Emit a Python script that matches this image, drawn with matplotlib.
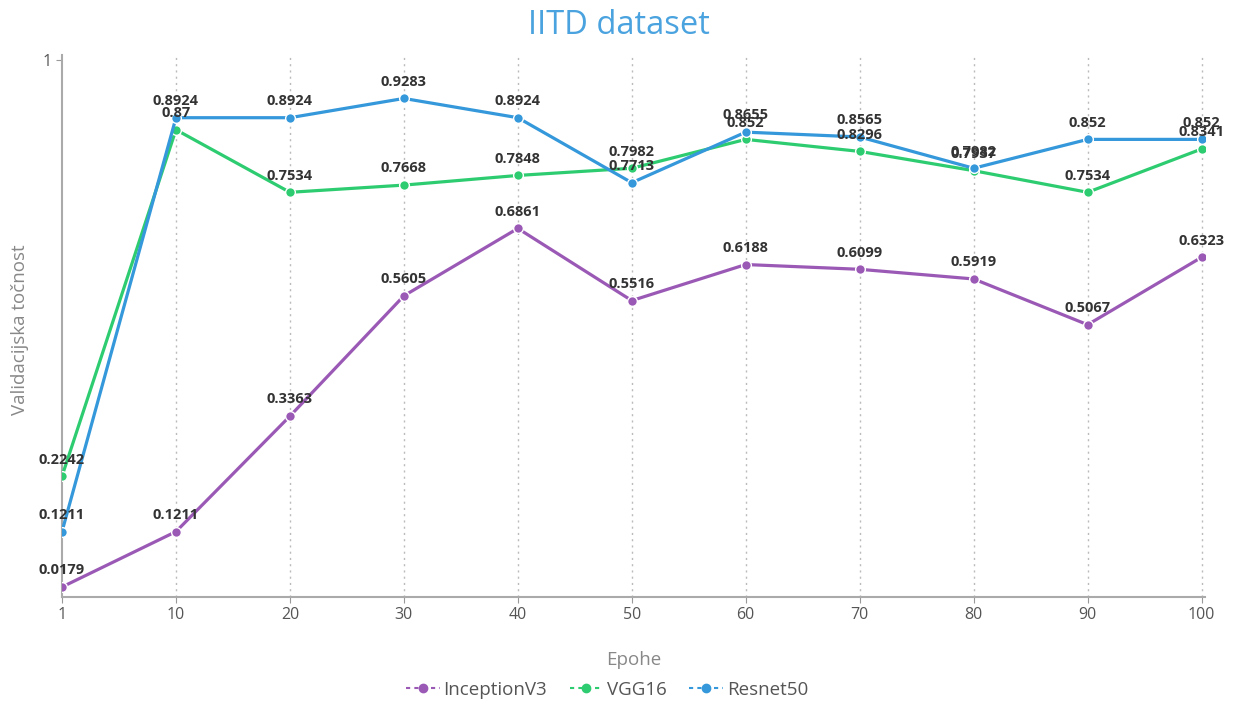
import matplotlib
matplotlib.use("Agg")
import matplotlib.pyplot as plt
from matplotlib.lines import Line2D

plt.rcParams['font.family'] = ['Open Sans', 'DejaVu Sans']

epochs = ["1", "10", "20", "30", "40", "50", "60", "70", "80", "90", "100"]
inception = [0.0179, 0.1211, 0.3363, 0.5605, 0.6861, 0.5516, 0.6188, 0.6099, 0.5919, 0.5067, 0.6323]
vgg16 = [0.2242, 0.87, 0.7534, 0.7668, 0.7848, 0.7982, 0.852, 0.8296, 0.7937, 0.7534, 0.8341]
resnet50 = [0.1211, 0.8924, 0.8924, 0.9283, 0.8924, 0.7713, 0.8655, 0.8565, 0.7982, 0.852, 0.852]

series = [("InceptionV3", inception, "#9b59b6"),
          ("VGG16", vgg16, "#2ecc71"),
          ("Resnet50", resnet50, "#3498db")]

fig = plt.figure(figsize=(12.38, 7.08), dpi=100)
ax = fig.add_axes([62/1238, 1 - 596.6/708, (1205-62)/1238, (596.6-54.6)/708])

x = list(range(len(epochs)))
for name, vals, col in series:
    ax.plot(x, vals, color=col, lw=2.3, marker='o', ms=7, mec='white', mew=1.0, zorder=3)
    for xi, v in zip(x, vals):
        ax.annotate(f"{v:g}", (xi, v), xytext=(0, 7), textcoords='offset points',
                    ha='center', va='bottom', fontsize=10.5, fontweight='bold',
                    color='#333333', zorder=5)

ax.set_xlim(0, 10.03)
ax.set_ylim(0, 1.01)
ax.set_xticks(x)
ax.set_xticklabels(epochs)
ax.set_yticks([1])
ax.set_yticklabels(["1"])
ax.tick_params(axis='both', colors='#999999', labelcolor='#555555', labelsize=11.5, length=4)
for xi in x[1:]:
    ax.axvline(xi, color='#bbbbbb', lw=1, ls=(0, (1.5, 3)), zorder=1)
for s in ['top', 'right']:
    ax.spines[s].set_visible(False)
for s in ['left', 'bottom']:
    ax.spines[s].set_color('#aaaaaa')
    ax.spines[s].set_linewidth(1.5)

ax.set_xlabel("Epohe", fontsize=13.5, color='#888888', labelpad=20)
fig.text(20/1238, 1 - 330/708, "Validacijska točnost", rotation=90, ha='center', va='center',
         fontsize=13.5, color='#888888')
fig.text(0.5, 1 - 25/708, "IITD dataset", ha='center', va='center', fontsize=23.5, color='#4aa3df')

handles = [Line2D([0], [0], color=c, lw=1.5, ls=(0, (2, 2)), marker='o', ms=6, mec=c)
           for _, _, c in series]
fig.legend(handles, [n for n, _, _ in series], loc='center', bbox_to_anchor=(607/1238, 1 - 690/708),
           ncol=3, frameon=False, fontsize=13.5, handlelength=1.8, handletextpad=0.2,
           columnspacing=1.2, labelcolor='#555555')

fig.savefig("out.png", dpi=100)
